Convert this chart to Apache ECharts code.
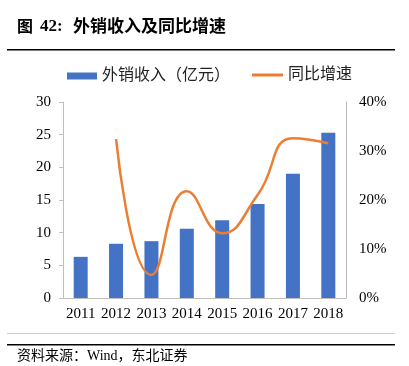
<!DOCTYPE html>
<html><head><meta charset="utf-8">
<script src="https://cdn.jsdelivr.net/npm/echarts@6/dist/echarts.min.js"></script>
<style>html,body{margin:0;padding:0;background:#fff}#c{width:409px;height:366px}</style>
</head><body><div id="c"></div>
<script>
const categories = ['2011','2012','2013','2014','2015','2016','2017','2018'];
const exportRevenue = [6.3, 8.3, 8.7, 10.6, 11.9, 14.4, 19.0, 25.3];
const yoyGrowth = [null, 32.4, 4.7, 21.8, 13.2, 21.0, 32.6, 31.6];
const leftTicks = [0, 30, 5];
const rightTicks = [0, 40, 10];

const serif = '"Liberation Serif","Noto Sans CJK SC",serif';
const chart = echarts.init(document.getElementById('c'), null, {renderer:'canvas'});
chart.setOption({
  animation:false,
  backgroundColor:'#fff',
  grid:{left:63,right:63,top:102,bottom:68,containLabel:false},
  graphic:[
    {type:'text',left:17,top:18,style:{text:'图',font:'bold 16px "Noto Sans CJK SC",serif',fill:'#000'}},
    {type:'text',left:40,top:18,style:{text:'42:',font:'bold 17px "Liberation Serif",serif',fill:'#000'}},
    {type:'text',left:73,top:17,style:{text:'外销收入及同比增速',font:'bold 17px "Noto Sans CJK SC",serif',fill:'#000'}},
    {type:'rect',shape:{x:7,y:49,width:388,height:1.5},style:{fill:'#000'}},
    {type:'rect',shape:{x:7,y:333,width:388,height:1},style:{fill:'#d0d0d0'}},
    {type:'rect',shape:{x:7,y:344,width:388,height:1.5},style:{fill:'#000'}},
    {type:'text',left:17,top:349,style:{text:'资料来源：Wind，东北证券',font:'14px "Liberation Serif","Noto Sans CJK SC",serif',fill:'#000'}}
  ],
  legend:[
    {left:62,top:63,itemWidth:30,itemHeight:7,icon:'rect',data:['外销收入（亿元）'],
     textStyle:{fontFamily:serif,fontSize:16,color:'#222'}},
    {left:247,top:62,itemWidth:31,itemHeight:3,icon:'rect',data:['同比增速'],
     textStyle:{fontFamily:serif,fontSize:16,color:'#222'}}
  ],
  xAxis:{type:'category',data:categories,
    axisLine:{lineStyle:{color:'#bfbfbf'}},axisTick:{show:false},
    axisLabel:{fontFamily:serif,fontSize:15,color:'#000',margin:9,interval:0}},
  yAxis:[
    {type:'value',min:leftTicks[0],max:leftTicks[1],interval:leftTicks[2],
     axisLine:{show:true,lineStyle:{color:'#bfbfbf'}},axisTick:{show:true,length:4,lineStyle:{color:'#bfbfbf'}},
     splitLine:{show:false},
     axisLabel:{fontFamily:serif,fontSize:15,color:'#000',margin:12}},
    {type:'value',min:rightTicks[0],max:rightTicks[1],interval:rightTicks[2],position:'right',
     axisLine:{show:true,lineStyle:{color:'#bfbfbf'}},axisTick:{show:false},
     splitLine:{show:false},
     axisLabel:{fontFamily:serif,fontSize:15,color:'#000',margin:13,formatter:'{value}%'}}
  ],
  series:[
    {name:'外销收入（亿元）',type:'bar',data:exportRevenue,barWidth:14,
     itemStyle:{color:'#4472C4'}},
    {name:'同比增速',type:'line',yAxisIndex:1,data:yoyGrowth,smooth:0.5,symbol:'none',
     lineStyle:{color:'#ED7D31',width:2.5},itemStyle:{color:'#ED7D31'}}
  ]
});
</script></body></html>
